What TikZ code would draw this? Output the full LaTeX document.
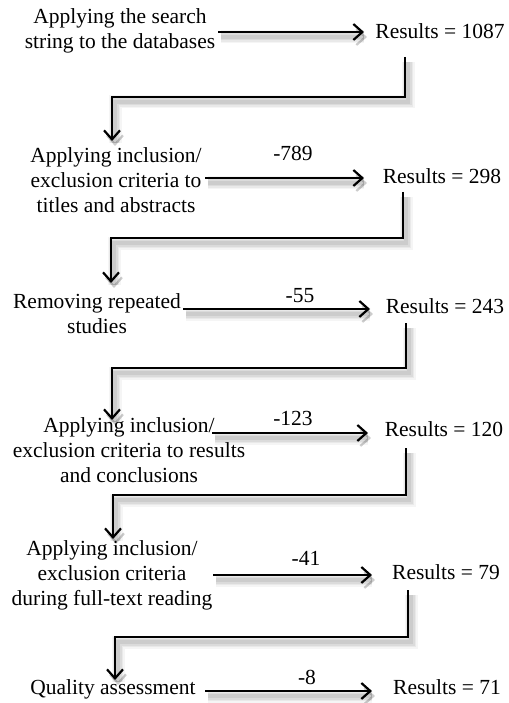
\documentclass[tikz,border=0pt]{standalone}
\usepackage{fontspec}
\setmainfont{Liberation Serif}
\usetikzlibrary{arrows.meta}
\begin{document}
\begin{tikzpicture}[x=1pt,y=-1pt,
  txt/.style={font=\fontsize{21.5}{25}\selectfont, align=center, inner sep=0pt},
  shadowed/.style={
    preaction={draw=black, opacity=0.04, line width=13pt, transform canvas={xshift=3pt,yshift=-5pt}},
    preaction={draw=black, opacity=0.05, line width=10pt, transform canvas={xshift=3pt,yshift=-5pt}},
    preaction={draw=black, opacity=0.06, line width=7pt, transform canvas={xshift=3pt,yshift=-5pt}},
    preaction={draw=black, opacity=0.07, line width=4pt, transform canvas={xshift=3pt,yshift=-5pt}}},
  conn/.style={shadowed, draw=black, line width=2.6pt, line join=miter},
  arr/.style={conn, -{Straight Barb[length=9pt,width=16pt,line width=2.2pt]}}
]
\useasboundingbox (0,0) rectangle (508,703);

% step texts
\node[txt] (t1) at (120,31) {Applying the search\\string to the databases};
\node[txt] (t2) at (116,180) {Applying inclusion/\\exclusion criteria to\\titles and abstracts};
\node[txt] (t3) at (97,314) {Removing repeated\\studies};
\node[txt] (t4) at (129,450) {Applying inclusion/\\exclusion criteria to results\\and conclusions};
\node[txt] (t5) at (112,575) {Applying inclusion/\\exclusion criteria\\during full-text reading};
\node[txt] (t6) at (113,689) {Quality assessment};

% results
\node[txt] (r1) at (440,31) {Results = 1087};
\node[txt] (r2) at (442,176) {Results = 298};
\node[txt] (r3) at (445,306) {Results = 243};
\node[txt] (r4) at (444,429) {Results = 120};
\node[txt] (r5) at (446,572) {Results = 79};
\node[txt] (r6) at (447,687) {Results = 71};

% removed counts
\node[txt] (n2) at (293,153) {-789};
\node[txt] (n3) at (300,296) {-55};
\node[txt] (n4) at (293,418) {-123};
\node[txt] (n5) at (306,558) {-41};
\node[txt] (n6) at (307,677) {-8};

% arrow starts and ends
\coordinate (a1s) at (218,32);  \coordinate (a1e) at (364,32);
\coordinate (a2s) at (205,178); \coordinate (a2e) at (364,178);
\coordinate (a3s) at (183,309); \coordinate (a3e) at (370,309);
\coordinate (a4s) at (212,433); \coordinate (a4e) at (368,433);
\coordinate (a5s) at (213,575); \coordinate (a5e) at (372,575);
\coordinate (a6s) at (205,691); \coordinate (a6e) at (372,691);

\draw[arr] (a1s) -- (a1e);
\draw[arr] (a2s) -- (a2e);
\draw[arr] (a3s) -- (a3e);
\draw[arr] (a4s) -- (a4e);
\draw[arr] (a5s) -- (a5e);
\draw[arr] (a6s) -- (a6e);

% down connectors
\coordinate (d1) at (405,57);
\coordinate (d2) at (403,192);
\coordinate (d3) at (406,323);
\coordinate (d4) at (406,448);
\coordinate (d5) at (408,590);

\draw[arr] (d1) -- (405,97) -| (112,141);
\draw[arr] (d2) -- (403,238) -| (111,283);
\draw[arr] (d3) -- (406,368) -| (112,420);
\draw[arr] (d4) -- (406,495) -| (113,539);
\draw[arr] (d5) -- (408,637) -| (115,680);
\end{tikzpicture}
\end{document}
